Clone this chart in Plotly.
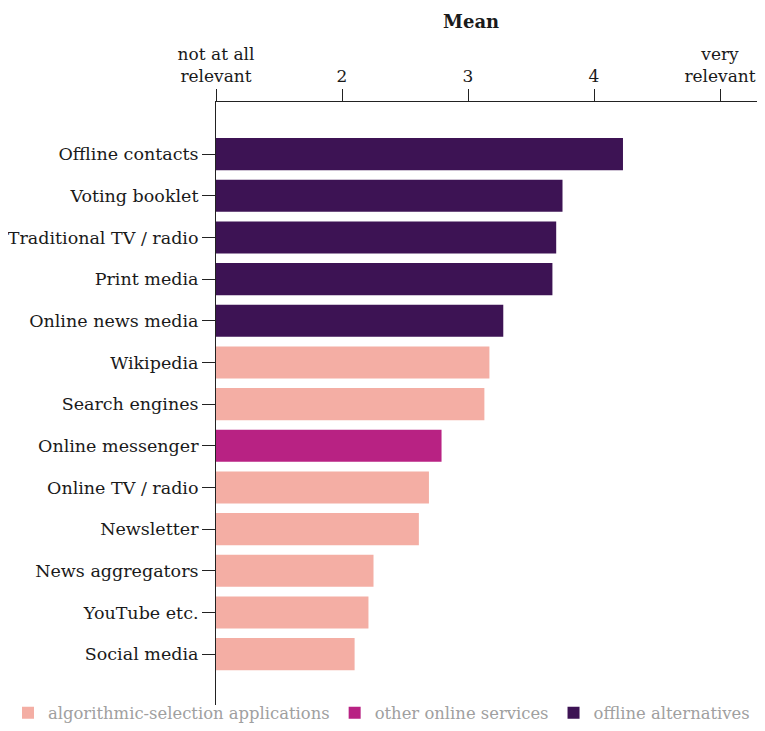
import plotly.graph_objects as go

categories = ["Offline contacts", "Voting booklet", "Traditional TV / radio", "Print media",
              "Online news media", "Wikipedia", "Search engines", "Online messenger",
              "Online TV / radio", "Newsletter", "News aggregators", "YouTube etc.", "Social media"]
means = [4.23, 3.75, 3.70, 3.67, 3.28, 3.17, 3.13, 2.79, 2.69, 2.61, 2.25, 2.21, 2.10]
groups = ["offline alternatives"] * 5 + ["algorithmic-selection applications"] * 2 + \
         ["other online services"] + ["algorithmic-selection applications"] * 5

group_order = ["algorithmic-selection applications", "other online services", "offline alternatives"]
group_colors = {"algorithmic-selection applications": "#f4aea4",
                "other online services": "#b82283",
                "offline alternatives": "#3d1354"}

tick_vals = [1, 2, 3, 4, 5]
tick_text = ["not at all<br>relevant", "2", "3", "4", "very<br>relevant"]

FONT = "DejaVu Serif"
SCALE_MIN = 1

fig = go.Figure()
for g in group_order:
    ys = [c for c, gg in zip(categories, groups) if gg == g]
    xs = [m - SCALE_MIN for m, gg in zip(means, groups) if gg == g]
    fig.add_trace(go.Bar(
        x=xs, y=ys, orientation="h", name=g, base=SCALE_MIN,
        marker=dict(color=group_colors[g], line=dict(width=0)),
        width=0.77,
    ))

# page has an 8px body margin: figure is drawn 8px in from the top-left
fig.update_layout(
    width=757, height=723,
    margin=dict(l=208, r=0, t=94, b=26),
    paper_bgcolor="white", plot_bgcolor="white",
    barmode="overlay",
    font=dict(family=FONT, size=17, color="#1a1a1a"),
    showlegend=True,
    legend=dict(orientation="h", x=-0.3789, xanchor="left", y=-0.0425, yanchor="bottom",
                font=dict(family=FONT, size=16.4, color="#a0a0a0"),
                traceorder="normal", itemwidth=30, bgcolor="rgba(0,0,0,0)"),
    xaxis=dict(side="top", range=[1, 1 + 549 / 126], tickvals=tick_vals, ticktext=tick_text,
               ticks="outside", ticklen=12, tickcolor="#222", showline=True, linecolor="#222",
               linewidth=1, showgrid=False, zeroline=False, fixedrange=True,
               tickfont=dict(family=FONT, size=17, color="#1a1a1a")),
    yaxis=dict(type="category", categoryorder="array", categoryarray=categories,
               range=[13.22, -1.25], ticks="outside", ticklen=13, tickcolor="#222",
               showline=True, linecolor="#222", linewidth=1, showgrid=False, zeroline=False,
               tickfont=dict(family=FONT, size=17.5, color="#1a1a1a")),
    annotations=[dict(text="<b>Mean</b>", x=0.4645, y=1.1327, xref="paper", yref="paper",
                      xanchor="center", yanchor="middle", showarrow=False,
                      font=dict(family=FONT, size=18, color="#1a1a1a"))],
)

fig.write_html("out.html")
